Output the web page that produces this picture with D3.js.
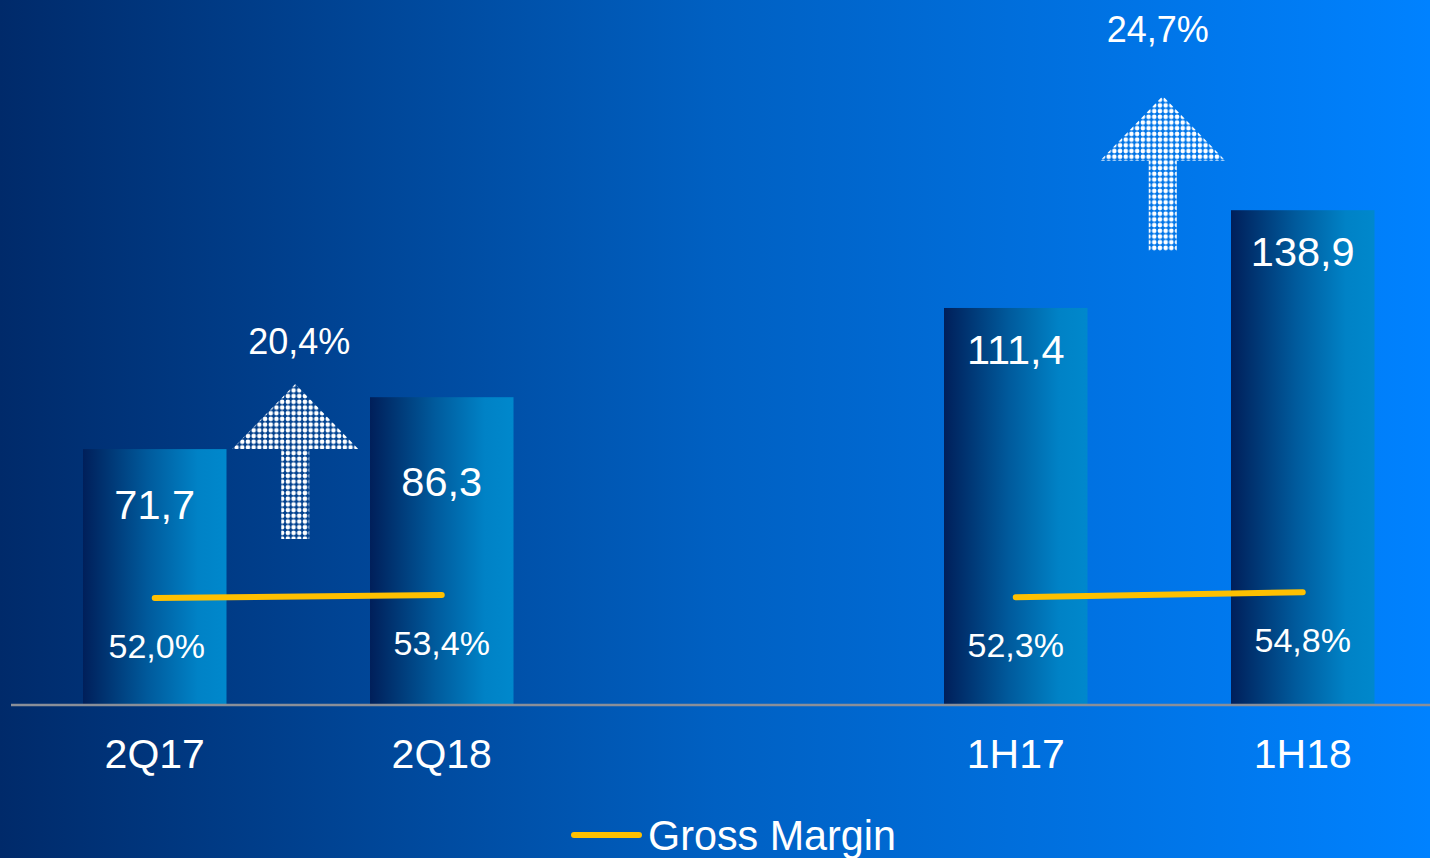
<!DOCTYPE html>
<html>
<head>
<meta charset="utf-8">
<script src="https://cdn.jsdelivr.net/npm/d3@7"></script>
<style>
  html, body { margin: 0; padding: 0; background: #003070; }
  svg { display: block; font-family: "Liberation Sans", Arial, sans-serif; }
</style>
</head>
<body>
<div id="chart"></div>
<script>
var categories = ["2Q17", "2Q18", "1H17", "1H18"],
    sales = [71.7, 86.3, 111.4, 138.9],
    salesLabels = ["71,7", "86,3", "111,4", "138,9"],
    margin = [52.0, 53.4, 52.3, 54.8],
    marginLabels = ["52,0%", "53,4%", "52,3%", "54,8%"],
    groups = [["2Q17", "2Q18"], ["1H17", "1H18"]],
    growthLabels = ["20,4%", "24,7%"],
    growthTop = [90, 171];   // arrow tip level, in sales units

var width = 1430,
    height = 858,
    baseY = 704;

// layout tweaks for the labels (pixels)
var valueLabelDy = {"2Q17": 70, "2Q18": 99, "1H17": 56, "1H18": 56},
    arrowShift = [-3, 3.5],
    growthLabelDy = [-30, -54],
    growthLabelDx = [4, -5];

var svg = d3.select("#chart").append("svg")
  .attr("width", width)
  .attr("height", height);

var defs = svg.append("defs");

var bg = defs.append("linearGradient").attr("id", "bg")
  .attr("x1", "0%").attr("x2", "100%").attr("y1", "0%").attr("y2", "0%");
bg.append("stop").attr("offset", "0%").attr("stop-color", "#002a6a");
bg.append("stop").attr("offset", "50%").attr("stop-color", "#0060c2");
bg.append("stop").attr("offset", "100%").attr("stop-color", "#0082ff");

var barGrad = defs.append("linearGradient").attr("id", "barGrad")
  .attr("x1", "0%").attr("x2", "100%").attr("y1", "0%").attr("y2", "0%");
barGrad.append("stop").attr("offset", "0%").attr("stop-color", "#001f5a");
barGrad.append("stop").attr("offset", "45%").attr("stop-color", "#005a9c");
barGrad.append("stop").attr("offset", "80%").attr("stop-color", "#0082c6");
barGrad.append("stop").attr("offset", "100%").attr("stop-color", "#0088cc");

// dotted fill for the growth arrows
var dots = defs.append("pattern").attr("id", "dots")
  .attr("patternUnits", "userSpaceOnUse")
  .attr("width", 5.7).attr("height", 5.7);
dots.append("circle")
  .attr("cx", 2.85).attr("cy", 2.85).attr("r", 2.3)
  .attr("fill", "#ffffff");

svg.append("rect")
  .attr("width", width).attr("height", height)
  .attr("fill", "url(#bg)");

// band scale with an empty slot between the quarter and half-year pairs
var x = d3.scaleBand()
  .domain(["2Q17", "2Q18", "gap", "1H17", "1H18"])
  .range([11.25, 1446.25])
  .paddingInner(0.5)
  .paddingOuter(0.25);

var y = d3.scaleLinear()
  .domain([0, 180])
  .range([baseY, baseY - 180 * 3.555]);

var y2 = d3.scaleLinear()
  .domain([0, 100])
  .range([baseY, baseY - 204]);

var data = categories.map(function(c, i) {
  return {cat: c, value: sales[i], label: salesLabels[i], margin: margin[i], mLabel: marginLabels[i]};
});

svg.selectAll("rect.bar")
  .data(data)
  .enter()
  .append("rect")
  .attr("class", "bar")
  .attr("x", d => x(d.cat))
  .attr("y", d => y(d.value))
  .attr("width", x.bandwidth())
  .attr("height", d => baseY - y(d.value))
  .attr("fill", "url(#barGrad)");

// baseline
svg.append("line")
  .attr("x1", 11).attr("x2", width)
  .attr("y1", baseY + 1).attr("y2", baseY + 1)
  .attr("stroke", "#8a8f99")
  .attr("stroke-width", 2.5);

// value labels
svg.selectAll("text.val")
  .data(data)
  .enter()
  .append("text")
  .attr("class", "val")
  .attr("x", d => x(d.cat) + x.bandwidth() / 2)
  .attr("y", d => y(d.value) + valueLabelDy[d.cat])
  .attr("text-anchor", "middle")
  .attr("fill", "#ffffff")
  .style("font-size", "41.5px")
  .text(d => d.label);

// gross margin lines, one per pair
var line = d3.line()
  .x(d => x(d.cat) + x.bandwidth() / 2)
  .y(d => y2(d.margin));

groups.forEach(function(g) {
  var pts = data.filter(d => g.indexOf(d.cat) >= 0);
  svg.append("path")
    .datum(pts)
    .attr("d", line)
    .attr("fill", "none")
    .attr("stroke", "#ffc000")
    .attr("stroke-width", 6)
    .attr("stroke-linecap", "round");
});

svg.selectAll("text.margin")
  .data(data)
  .enter()
  .append("text")
  .attr("class", "margin")
  .attr("x", d => x(d.cat) + x.bandwidth() / 2 + (d.cat === "2Q17" ? 2 : 0))
  .attr("y", d => y2(d.margin) + 60)
  .attr("text-anchor", "middle")
  .attr("fill", "#ffffff")
  .style("font-size", "34px")
  .text(d => d.mLabel);

// category axis labels
svg.selectAll("text.cat")
  .data(data)
  .enter()
  .append("text")
  .attr("class", "cat")
  .attr("x", d => x(d.cat) + x.bandwidth() / 2)
  .attr("y", 768)
  .attr("text-anchor", "middle")
  .attr("fill", "#ffffff")
  .style("font-size", "41px")
  .text(d => d.cat);

// growth arrows
groups.forEach(function(g, i) {
  var cx = (x(g[0]) + x(g[1]) + x.bandwidth()) / 2 + arrowShift[i],
      top = y(growthTop[i]);
  var pts = [
    [cx, top],
    [cx + 63, top + 65],
    [cx + 14, top + 65],
    [cx + 14, top + 155],
    [cx - 14, top + 155],
    [cx - 14, top + 65],
    [cx - 63, top + 65]
  ];
  svg.append("polygon")
    .attr("points", pts.map(p => p.join(",")).join(" "))
    .attr("fill", "url(#dots)");

  svg.append("text")
    .attr("x", cx + growthLabelDx[i])
    .attr("y", top + growthLabelDy[i])
    .attr("text-anchor", "middle")
    .attr("fill", "#ffffff")
    .style("font-size", "36px")
    .text(growthLabels[i]);
});

// legend
var legend = svg.append("g");
legend.append("line")
  .attr("x1", 574).attr("x2", 639)
  .attr("y1", 835).attr("y2", 835)
  .attr("stroke", "#ffc000")
  .attr("stroke-width", 6)
  .attr("stroke-linecap", "round");
legend.append("text")
  .attr("x", 648)
  .attr("y", 850)
  .attr("fill", "#ffffff")
  .style("font-size", "42px")
  .attr("textLength", 248)
  .attr("lengthAdjust", "spacingAndGlyphs")
  .text("Gross Margin");
</script>
</body>
</html>
